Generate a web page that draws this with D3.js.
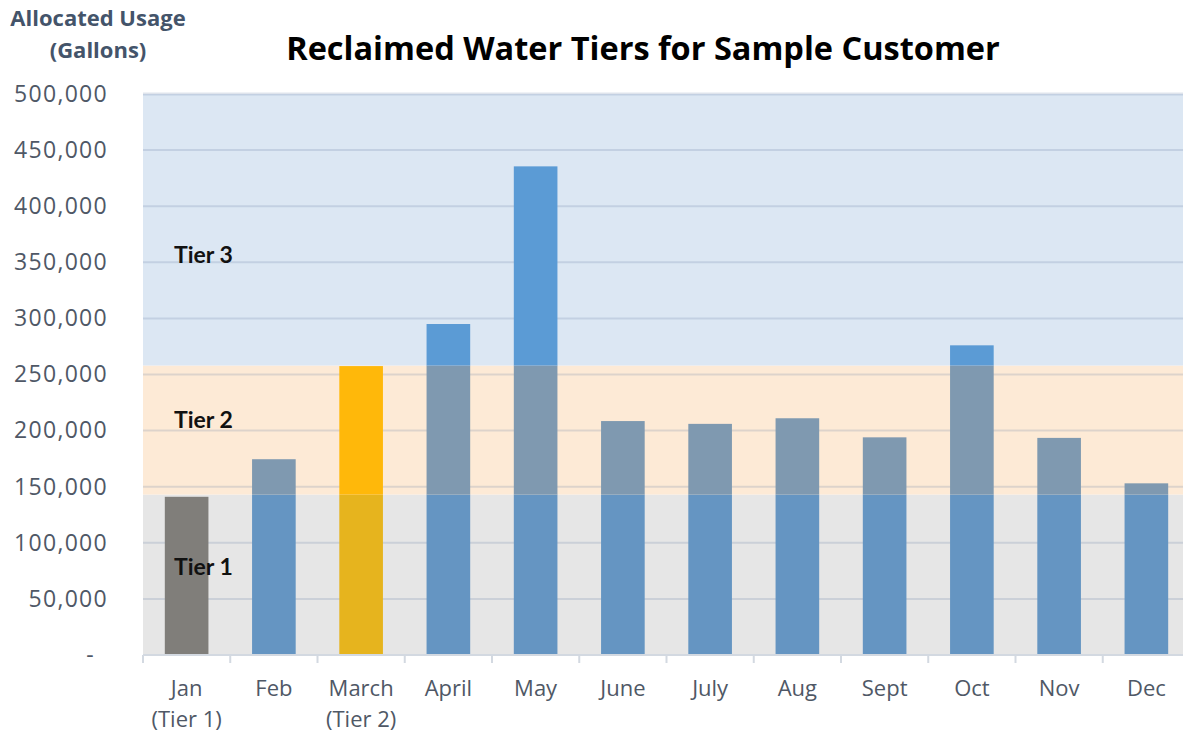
<!DOCTYPE html>
<html>
<head>
<meta charset="utf-8">
<script src="https://cdn.jsdelivr.net/npm/d3@7"></script>
<style>
  body { margin: 0; background: #fff; }
  svg { display: block; }
</style>
</head>
<body>
<div id="chart"></div>
<script>
// chart data
const months = ['Jan', 'Feb', 'March', 'April', 'May', 'June', 'July', 'Aug', 'Sept', 'Oct', 'Nov', 'Dec'];
const subLabels = ['(Tier 1)', '', '(Tier 2)', '', '', '', '', '', '', '', '', ''];
const usage = [141000, 174500, 257500, 295000, 435500, 208500, 206000, 211000, 194000, 276000, 193500, 153000];
const barKind = ['jan', 'blue', 'march', 'blue', 'blue', 'blue', 'blue', 'blue', 'blue', 'blue', 'blue', 'blue'];
const tierBounds = [0, 143000, 258000, 500000];
const tierNames = ['Tier 1', 'Tier 2', 'Tier 3'];
const yTicks = [0, 50000, 100000, 150000, 200000, 250000, 300000, 350000, 400000, 450000, 500000];

// colours per tier (tier1, tier2, tier3)
const bandColors = ['#E6E6E6', '#FDEAD6', '#DCE7F3'];
const barColors = {
    blue: ['#6595C2', '#7F99B0', '#5B9BD5'],
    jan: ['#807E7A', '#807E7A', '#807E7A'],
    march: ['#E6B41E', '#FFB80A', '#FFC000']
};

const width = 1183, height = 732;
const margin = { top: 94, left: 143, bottom: 655 };

const svg = d3.select('#chart').append('svg')
    .attr('width', width)
    .attr('height', height);

const x = d3.scaleBand().domain(months)
    .range([margin.left, margin.left + 12 * 87.25])
    .paddingInner(0.5).paddingOuter(0.25);

const y = d3.scaleLinear().domain([0, 500000]).range([margin.bottom, margin.top]);

const plotRight = margin.left + 12 * 87.25;

// tier bands
svg.append('g').selectAll('rect.band').data(d3.range(3))
    .join('rect')
    .attr('class', 'band')
    .attr('x', margin.left)
    .attr('width', plotRight - margin.left)
    .attr('y', i => y(tierBounds[i + 1]))
    .attr('height', i => y(tierBounds[i]) - y(tierBounds[i + 1]))
    .attr('fill', i => bandColors[i]);

// gridlines
svg.append('g').selectAll('line.grid').data(yTicks.filter(d => d > 0))
    .join('line')
    .attr('class', 'grid')
    .attr('x1', margin.left).attr('x2', plotRight)
    .attr('y1', d => y(d)).attr('y2', d => y(d))
    .attr('stroke', 'rgba(95,120,160,0.2)')
    .attr('stroke-width', d => d === 500000 ? 3 : 2);

// bars, split into segments per tier
const segments = [];
months.forEach((m, i) => {
    for (let t = 0; t < 3; t++) {
        const lo = tierBounds[t];
        const hi = Math.min(tierBounds[t + 1], usage[i]);
        if (hi > lo) segments.push({ month: m, lo: lo, hi: hi, color: barColors[barKind[i]][t] });
    }
});

svg.append('g').selectAll('rect.bar').data(segments)
    .join('rect')
    .attr('class', 'bar')
    .attr('x', d => x(d.month))
    .attr('width', x.bandwidth())
    .attr('y', d => y(d.hi))
    .attr('height', d => y(d.lo) - y(d.hi))
    .attr('fill', d => d.color);

// tier labels
const tierLabelVal = [78500, 209500, 356500];
svg.append('g').selectAll('text.tier').data(tierNames)
    .join('text')
    .attr('class', 'tier')
    .attr('x', 174)
    .attr('y', (d, i) => y(tierLabelVal[i]))
    .attr('dy', '0.35em')
    .attr('font-family', 'Lato, "Open Sans", sans-serif')
    .attr('font-weight', 700)
    .attr('font-size', 23)
    .attr('fill', '#111')
    .text(d => d);

// x axis
const xAxis = svg.append('g')
    .attr('transform', `translate(0,${margin.bottom})`);
xAxis.append('line')
    .attr('x1', margin.left).attr('x2', plotRight)
    .attr('stroke', '#D3D9E1').attr('stroke-width', 2);
xAxis.selectAll('line.tick').data(d3.range(13))
    .join('line')
    .attr('class', 'tick')
    .attr('x1', i => margin.left + i * x.step())
    .attr('x2', i => margin.left + i * x.step())
    .attr('y1', 0).attr('y2', 8)
    .attr('stroke', '#D3D9E1').attr('stroke-width', 2);

const labelFont = '"Open Sans", sans-serif';
const labelColor = '#4F5866';

xAxis.selectAll('text.month').data(months)
    .join('text')
    .attr('class', 'month')
    .attr('x', d => x(d) + x.bandwidth() / 2)
    .attr('y', 41)
    .attr('text-anchor', 'middle')
    .attr('font-family', labelFont)
    .attr('font-size', 22)
    .attr('fill', labelColor)
    .text(d => d);

xAxis.selectAll('text.sub').data(months)
    .join('text')
    .attr('class', 'sub')
    .attr('x', d => x(d) + x.bandwidth() / 2)
    .attr('y', 72)
    .attr('text-anchor', 'middle')
    .attr('font-family', labelFont)
    .attr('font-size', 22)
    .attr('fill', labelColor)
    .text((d, i) => subLabels[i]);

// y axis labels
const yAxis = d3.axisLeft(y)
    .tickValues(yTicks)
    .tickSize(0)
    .tickPadding(35)
    .tickFormat(d => d === 0 ? '-' : d3.format(',')(d));

const yG = svg.append('g')
    .attr('transform', `translate(${margin.left},0)`)
    .call(yAxis);
yG.select('.domain').remove();
yG.selectAll('text')
    .attr('font-family', labelFont)
    .attr('font-size', 23)
    .attr('letter-spacing', 1.3)
    .attr('fill', labelColor);
yG.selectAll('.tick').filter(d => d === 0).select('text')
    .attr('x', -48);

// axis title
svg.append('text')
    .attr('x', 98).attr('y', 26)
    .attr('text-anchor', 'middle')
    .attr('font-family', labelFont)
    .attr('font-weight', 700)
    .attr('font-size', 22)
    .attr('fill', '#44546A')
    .text('Allocated Usage');
svg.append('text')
    .attr('x', 98).attr('y', 58)
    .attr('text-anchor', 'middle')
    .attr('font-family', labelFont)
    .attr('font-weight', 700)
    .attr('font-size', 22)
    .attr('fill', '#44546A')
    .text('(Gallons)');

// title
svg.append('text')
    .attr('x', 643).attr('y', 60)
    .attr('text-anchor', 'middle')
    .attr('font-family', labelFont)
    .attr('font-weight', 700)
    .attr('font-size', 32.5)
    .attr('fill', '#000')
    .text('Reclaimed Water Tiers for Sample Customer');
</script>
</body>
</html>
